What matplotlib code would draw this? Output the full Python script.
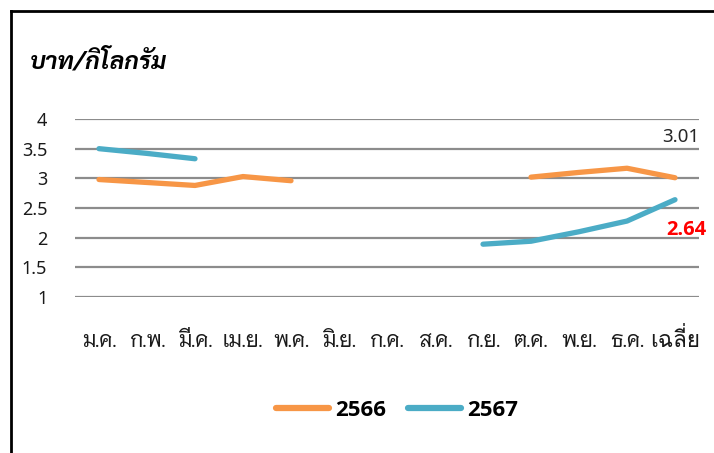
import matplotlib
matplotlib.use("Agg")
import matplotlib.pyplot as plt
from matplotlib.lines import Line2D
from matplotlib import font_manager
from matplotlib.textpath import TextPath
from matplotlib.font_manager import FontProperties
import numpy as np

months = ["ม.ค.", "ก.พ.", "มี.ค.", "เม.ย.", "พ.ค.", "มิ.ย.", "ก.ค.", "ส.ค.",
          "ก.ย.", "ต.ค.", "พ.ย.", "ธ.ค.", "เฉลี่ย"]
nan = np.nan
y2566 = [2.98, 2.93, 2.88, 3.03, 2.96, nan, nan, nan, nan, 3.02, 3.10, 3.17, 3.01]
y2567 = [3.50, 3.42, 3.33, nan, nan, nan, nan, nan, 1.89, 1.94, 2.10, 2.28, 2.64]
yticks = [1, 1.5, 2, 2.5, 3, 3.5, 4]
series_names = ["2566", "2567"]

NUM = ["Noto Sans", "DejaVu Sans"]
plt.rcParams['font.family'] = NUM

# a family for bold digits that really has a bold face
installed = font_manager.fontManager.ttflist
BOLD = "DejaVu Sans"
for fam in ["Open Sans", "Noto Sans", "Lato", "Liberation Sans", "DejaVu Sans"]:
    if any(f.name == fam and (f.weight in ("bold", 700) or str(f.weight) == "700") for f in installed):
        BOLD = fam
        break

# Thai font for month labels; check tone-mark placement for the stacked label
THAI_MAIN = "Niramit"
def xheight(fam):
    return TextPath((0, 0), "ม", prop=FontProperties(family=fam, size=100)).get_extents().height

def tone_ok(fam):
    fp = FontProperties(family=fam, size=100)
    try:
        t = TextPath((0, 0), "\u0e48", prop=fp).get_extents()
        v = TextPath((0, 0), "\u0e35", prop=fp).get_extents()
        return t.y0 >= v.y1 - 5
    except Exception:
        return False

last_font = THAI_MAIN
for fam in ["Niramit", "Sarabun", "Thasadith", "Loma", "Noto Sans Thai Looped", "Kanit"]:
    if tone_ok(fam):
        last_font = fam
        break
main_size = 15
last_size = main_size * xheight(THAI_MAIN) / xheight(last_font)

fig = plt.figure(figsize=(7.14, 4.53), dpi=100)
W, H = 714, 453
ax = fig.add_axes([75 / W, 1 - 297 / H, (699 - 75) / W, (297 - 119) / H])

orange = "#F79646"
blue = "#4BACC6"
x = np.arange(len(months))
ax.plot(x, y2566, color=orange, lw=3.8, solid_capstyle="round", solid_joinstyle="round", label=series_names[0])
ax.plot(x, y2567, color=blue, lw=3.8, solid_capstyle="round", solid_joinstyle="round", label=series_names[1])

ax.set_xlim(-0.5, len(months) - 0.5)
ax.set_ylim(1, 4)
ax.set_yticks(yticks)
ax.set_yticklabels([("%g" % v) for v in yticks], fontsize=13, color="#1a1a1a")
ax.set_xticks(x)
ax.set_xticklabels(months, fontsize=main_size, color="#1a1a1a",
                   family=[THAI_MAIN, "Sarabun", "Noto Sans Thai Looped", "DejaVu Sans"])
lbls = ax.get_xticklabels()
lbls[-1].set_family([last_font, "DejaVu Sans"])
lbls[-1].set_fontsize(last_size)
for lb in lbls:
    lb.set_verticalalignment("baseline")
ax.tick_params(axis='x', length=0, pad=36)
ax.tick_params(axis='y', length=0, pad=20)
ax.grid(axis='y', color="#8C8C8C", lw=1.6)
ax.set_axisbelow(True)
for s in ax.spines.values():
    s.set_visible(False)

ax.annotate("%.2f" % y2566[-1], (x[-1], y2566[-1]), xytext=(4, 29), textcoords="offset points",
            ha="center", va="center", fontsize=13.5, color="#262626")
ax.annotate("%.2f" % y2567[-1], (x[-1], y2567[-1]), xytext=(8, -22), textcoords="offset points",
            ha="center", va="center", fontsize=14.5, color="#FF0000", fontweight="bold",
            family=[BOLD, "DejaVu Sans"])

fig.text(30 / W, 1 - 62 / H, "บาท/กิโลกรัม", fontsize=17.5, fontweight="bold", fontstyle="italic",
         ha="left", va="center", family=["Sarabun", "Noto Sans Thai Looped", "DejaVu Sans"])

leg = fig.legend(loc="center", bbox_to_anchor=(397 / W, 1 - 410 / H), ncol=2, frameon=False,
                 prop={"family": [BOLD, "DejaVu Sans"], "size": 16, "weight": "bold"},
                 handlelength=2.4, handletextpad=0.25, columnspacing=1.0)
for h in leg.legend_handles:
    h.set_linewidth(4.5)

fig.add_artist(Line2D([11 / W, 1], [1 - 11 / H, 1 - 11 / H], color="black", lw=2.0, transform=fig.transFigure))
fig.add_artist(Line2D([11 / W, 11 / W], [1 - 11 / H, 0], color="black", lw=2.0, transform=fig.transFigure))

fig.savefig("out.png", dpi=100)
